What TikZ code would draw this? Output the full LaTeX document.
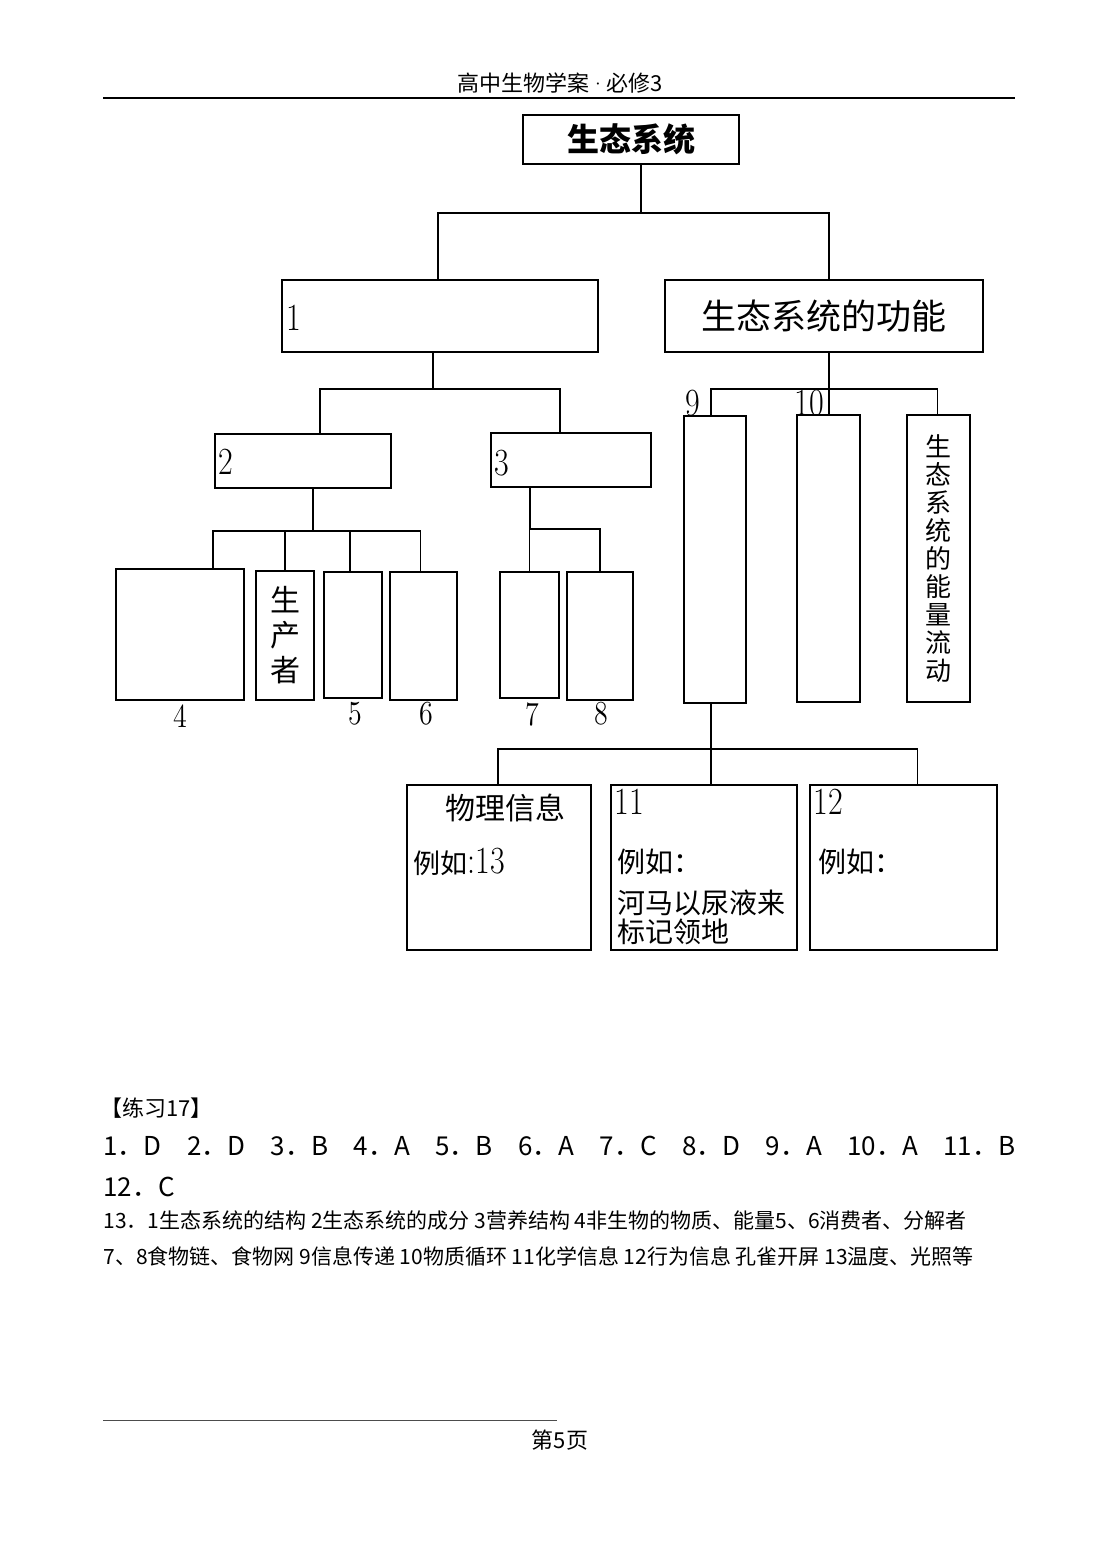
\documentclass[tikz,border=0pt]{standalone}
\usepackage{graphicx}
\usepackage{fontspec}
\newfontfamily\cjk{Noto Sans CJK SC}
\newcommand\tall[1]{\scalebox{1}[1.2]{#1}}

\begin{document}
\begin{tikzpicture}[
  x=0.5pt, y=-0.5pt,
  every node/.style={inner sep=0pt},
  box/.style={draw=black,line width=.8pt,rectangle,inner sep=0pt},
  link/.style={draw=black,line width=.8pt},
  num/.style={font=\fontsize{16}{16}\selectfont},
  small/.style={font=\fontsize{14}{14}\selectfont},
  lab/.style={font=\cjk\fontsize{14}{14.5}\selectfont}
]
\useasboundingbox (0,0) rectangle (1117,1548);

% page head
\node[font=\cjk\fontsize{11}{11}\selectfont] (head) at (560,83)
  {高中生物学案{\normalfont\fontsize{11}{11}\selectfont\textperiodcentered}必修3};
\draw[line width=1pt] (103,98) -- (1015,98);

% top levels
\node[box,minimum width=108pt,minimum height=24.5pt,
      font=\cjk\bfseries\fontsize{16}{16}\selectfont] (top) at (631,139.5) {生态系统};
\node[box,minimum width=158pt,minimum height=36pt] (b1) at (440,316) {};
\node[box,minimum width=159pt,minimum height=36pt,
      font=\cjk\fontsize{17.5}{17.5}\selectfont] (fn) at (824,316) {生态系统的功能};
\node[num,anchor=west] at (286,318) {\tall{1}};

\draw[link] ([xshift=5pt]top.south) -- ++(0,48) coordinate (j1);
\draw[link] ([xshift=-1pt]b1.north) |- (j1) -| ([xshift=2.5pt]fn.north);

% structure side
\node[box,minimum width=88pt,minimum height=27pt] (b2) at (303,461) {};
\node[box,minimum width=80pt,minimum height=27pt] (b3) at (571,460) {};
\node[num,anchor=west] at (218,462) {\tall{2}};
\node[num,anchor=west] at (494,463) {\tall{3}};

\draw[link] ([xshift=-3.5pt]b1.south) -- ++(0,36) coordinate (j2);
\draw[link] ([xshift=8.5pt]b2.north) |- (j2) -| ([xshift=-5.5pt]b3.north);

\node[box,minimum width=64pt,minimum height=65.5pt] (b4) at (180,634.5) {};
\node[box,minimum width=29pt,minimum height=64.5pt,align=center,
      font=\cjk\fontsize{15}{17.5}\selectfont] (sc) at (285,635.5) {生\\产\\者};
\node[box,minimum width=29pt,minimum height=63pt] (b5) at (353,635) {};
\node[box,minimum width=33.5pt,minimum height=64pt] (b6) at (423.5,636) {};
\node[box,minimum width=29.5pt,minimum height=63pt] (b7) at (529.5,635) {};
\node[box,minimum width=33pt,minimum height=64pt] (b8) at (600,636) {};

\draw[link] ([xshift=5pt]b2.south) -- ++(0,42) coordinate (j3);
\draw[link] ([xshift=16.5pt]b4.north) |- (j3) -| ([xshift=-1.5pt]b6.north);
\draw[link] (sc.north) -- (sc.north |- j3);
\draw[link] ([xshift=-1.5pt]b5.north) -- ([xshift=-1.5pt]b5.north |- j3);
\draw[link] ([xshift=-20.5pt]b3.south) -- ++(0,41) coordinate (j4);
\draw[link] (b7.north) |- (j4) -| (b8.north);

\node[small] at (180,716) {\tall{4}};
\node[small] at (355,714) {\tall{5}};
\node[small] at (426,714) {\tall{6}};
\node[small] at (532,714) {\tall{7}};
\node[small] at (601,714) {\tall{8}};

% function side
\node[box,minimum width=31pt,minimum height=143.5pt] (b9) at (715,559.5) {};
\node[box,minimum width=31.5pt,minimum height=143.5pt] (b10) at (828.5,558.5) {};
\node[box,minimum width=31.5pt,minimum height=143.5pt,align=center,
      font=\cjk\fontsize{13}{14}\selectfont] (en) at (938.5,558.5)
      {生\\态\\系\\统\\的\\能\\量\\流\\动};
\node[num] at (693,403) {\tall{9}};
\node[num] at (809,403) {\tall{10}};

\draw[link] ([xshift=2.5pt]fn.south) -- ++(0,36) coordinate (j5);
\draw[link] ([xshift=-2pt]b9.north) |- (j5) -| ([xshift=-0.5pt]en.north);
\draw[link] (j5) -- (b10.north -| j5);

% information kinds
\node[box,minimum width=92pt,minimum height=82.5pt] (ph) at (499,867.5) {};
\node[box,minimum width=93pt,minimum height=82.5pt] (b11) at (704,867.5) {};
\node[box,minimum width=93.5pt,minimum height=82.5pt] (b12) at (903.5,867.5) {};

\draw[link] ([xshift=-2pt]b9.south) -- ++(0,45) coordinate (j6);
\draw[link] ([xshift=-0.5pt]ph.north) |- (j6) -| ([xshift=7pt]b12.north);
\draw[link] (j6) -- (b11.north -| j6);

\node[font=\cjk\fontsize{15}{15}\selectfont] (phys) at (505,808) {物理信息};
\node[anchor=west] (ex1) at (413,862)
  {{\cjk\fontsize{13.5}{14}\selectfont 例如}{\fontsize{16}{16}\selectfont\tall{:13}}};
\node[num,anchor=west] at (614,802) {\tall{11}};
\node[lab,anchor=west] (ex2) at (617,862) {例如：};
\node[lab,anchor=west,align=left] (hippo) at (617,917.5) {河马以尿液来\\标记领地};
\node[num,anchor=west] at (813,802) {\tall{12}};
\node[lab,anchor=west] (ex3) at (818,862) {例如：};

% answers
\node[anchor=west,font=\cjk\fontsize{11}{11}\selectfont] (ex) at (100,1108) {【练习17】};
\node[anchor=west,font=\cjk\fontsize{13}{13}\selectfont] (ans1) at (103,1146)
  {\makebox[456pt][s]{1．D 2．D 3．B 4．A 5．B 6．A 7．C 8．D 9．A 10．A 11．B}};
\node[anchor=west,font=\cjk\fontsize{13}{13}\selectfont] (ans2) at (103,1187) {12．C};
\node[anchor=west,font=\cjk\fontsize{10.5}{10.5}\selectfont] (ans3) at (103,1220)
  {13．1生态系统的结构 2生态系统的成分 3营养结构 4非生物的物质、能量5、6消费者、分解者};
\node[anchor=west,font=\cjk\fontsize{10.5}{10.5}\selectfont] (ans4) at (103,1256)
  {7、8食物链、食物网 9信息传递 10物质循环 11化学信息 12行为信息 孔雀开屏 13温度、光照等};

% page foot
\draw[black!70,line width=.5pt] (103,1420) -- (557,1420);
\node[font=\cjk\fontsize{11}{11}\selectfont] (foot) at (560,1440) {第5页};
\end{tikzpicture}
\end{document}
